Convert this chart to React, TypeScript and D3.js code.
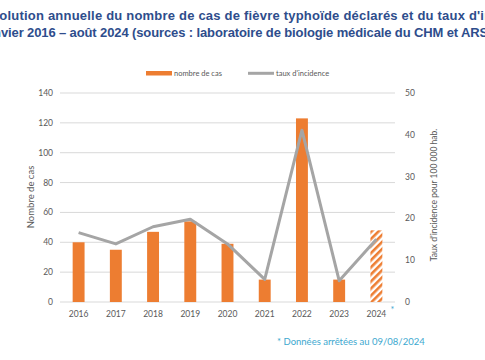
import React from "react";
import * as d3 from "d3";

// valeurs
const annees = ["2016", "2017", "2018", "2019", "2020", "2021", "2022", "2023", "2024"];
const nombreCas = [40, 35, 47, 54, 39, 15, 123, 15, 48];
const tauxIncidence = [16.6, 13.9, 18.0, 19.8, 13.9, 5.4, 41.1, 5.1, 15.0];
const ticksCas = [0, 20, 40, 60, 80, 100, 120, 140];
const ticksTaux = [0, 10, 20, 30, 40, 50];
const anneePartielle = "2024";

const titre1 = "Évolution annuelle du nombre de cas de fièvre typhoïde déclarés et du taux d'incidence";
const titre2 = "janvier 2016 – août 2024 (sources : laboratoire de biologie médicale du CHM et ARS)";
const note = "* Données arrêtées au 09/08/2024";

const orange = "#ED7D31";
const gris = "#A5A5A5";
const texteGris = "#595959";
const bleuTitre = "#2E4D8C";
const cyan = "#3DA8CF";
const police = "Lato, 'Open Sans', sans-serif";

export default function App() {
  const width = 485;
  const height = 360;
  const left = 60;
  const right = 395;
  const top = 93;
  const bottom = 302;

  const x = d3.scaleBand().domain(annees).range([left, right]).paddingInner(0).paddingOuter(0);
  const yCas = d3.scaleLinear().domain([0, 140]).range([bottom, top]);
  const yTaux = d3.scaleLinear().domain([0, 50]).range([bottom, top]);
  const barW = x.bandwidth() * 0.32;

  const ligne = d3
    .line<number>()
    .x((d, i) => (x(annees[i]) as number) + x.bandwidth() / 2)
    .y((d) => yTaux(d));

  return (
    <svg
      width={width}
      height={height}
      style={{ position: "absolute", left: 0, top: 0, background: "#fff" }}
    >
      <defs>
        <pattern id="hachures" patternUnits="userSpaceOnUse" width="5" height="5" patternTransform="rotate(45)">
          <rect width="5" height="5" fill="#fff" />
          <rect width="2.6" height="5" fill={orange} />
        </pattern>
      </defs>

      {/* titre, coupé des deux côtés comme sur l'original */}
      <g fontFamily="Arial, 'Liberation Sans', sans-serif" fontWeight="bold" fontSize="13" fill={bleuTitre}>
        <text x={-17} y={20} textLength={559} lengthAdjust="spacing">{titre1}</text>
        <text x={-17.5} y={37} textLength={510} lengthAdjust="spacing">{titre2}</text>
      </g>

      {/* légende */}
      <g fontFamily={police} fontSize="7.5" fill={texteGris}>
        <rect x={146} y={71} width={26} height={4.5} fill={orange} />
        <text x={174} y={75.5}>nombre de cas</text>
        <line x1={248} x2={274} y1={73.3} y2={73.3} stroke={gris} strokeWidth={3} />
        <text x={276} y={75.5}>taux d'incidence</text>
      </g>

      {/* grille */}
      {ticksCas.map((t) => (
        <line key={t} x1={left} x2={right} y1={yCas(t)} y2={yCas(t)} stroke="#D9D9D9" strokeWidth={1} />
      ))}

      {/* axe gauche */}
      <g fontFamily={police} fontSize="8.5" fill={texteGris} textAnchor="end">
        {ticksCas.map((t) => (
          <text key={t} x={53} y={yCas(t) + 3}>{t}</text>
        ))}
      </g>
      {/* axe droit */}
      <g fontFamily={police} fontSize="8.5" fill={texteGris} textAnchor="start">
        {ticksTaux.map((t) => (
          <text key={t} x={405} y={yTaux(t) + 3}>{t}</text>
        ))}
      </g>

      <text
        transform={`translate(34,197) rotate(-90)`}
        textAnchor="middle"
        fontFamily={police}
        fontSize="9.5"
        fill={texteGris}
      >
        Nombre de cas
      </text>
      <text
        transform={`translate(437,195) rotate(-90)`}
        textAnchor="middle"
        fontFamily={police}
        fontSize="8.5"
        fill={texteGris}
      >
        Taux d'incidence pour 100 000 hab.
      </text>

      {/* barres */}
      {annees.map((a, i) => (
        <rect
          key={a}
          x={(x(a) as number) + (x.bandwidth() - barW) / 2}
          y={yCas(nombreCas[i])}
          width={barW}
          height={bottom - yCas(nombreCas[i])}
          fill={a === anneePartielle ? "url(#hachures)" : orange}
        />
      ))}

      {/* courbe */}
      <path d={ligne(tauxIncidence) || ""} fill="none" stroke={gris} strokeWidth={3} strokeLinejoin="round" />

      {/* axe x */}
      <g fontFamily={police} fontSize="8.5" fill={texteGris} textAnchor="middle">
        {annees.map((a) => (
          <text key={a} x={(x(a) as number) + x.bandwidth() / 2} y={317}>{a}</text>
        ))}
      </g>
      <text x={(x(anneePartielle) as number) + x.bandwidth() / 2 + 14} y={313} fontFamily={police} fontSize="9" fill={cyan}>*</text>

      <text x={277} y={345} fontFamily={police} fontSize="9.5" fill={cyan}>{note}</text>
    </svg>
  );
}
